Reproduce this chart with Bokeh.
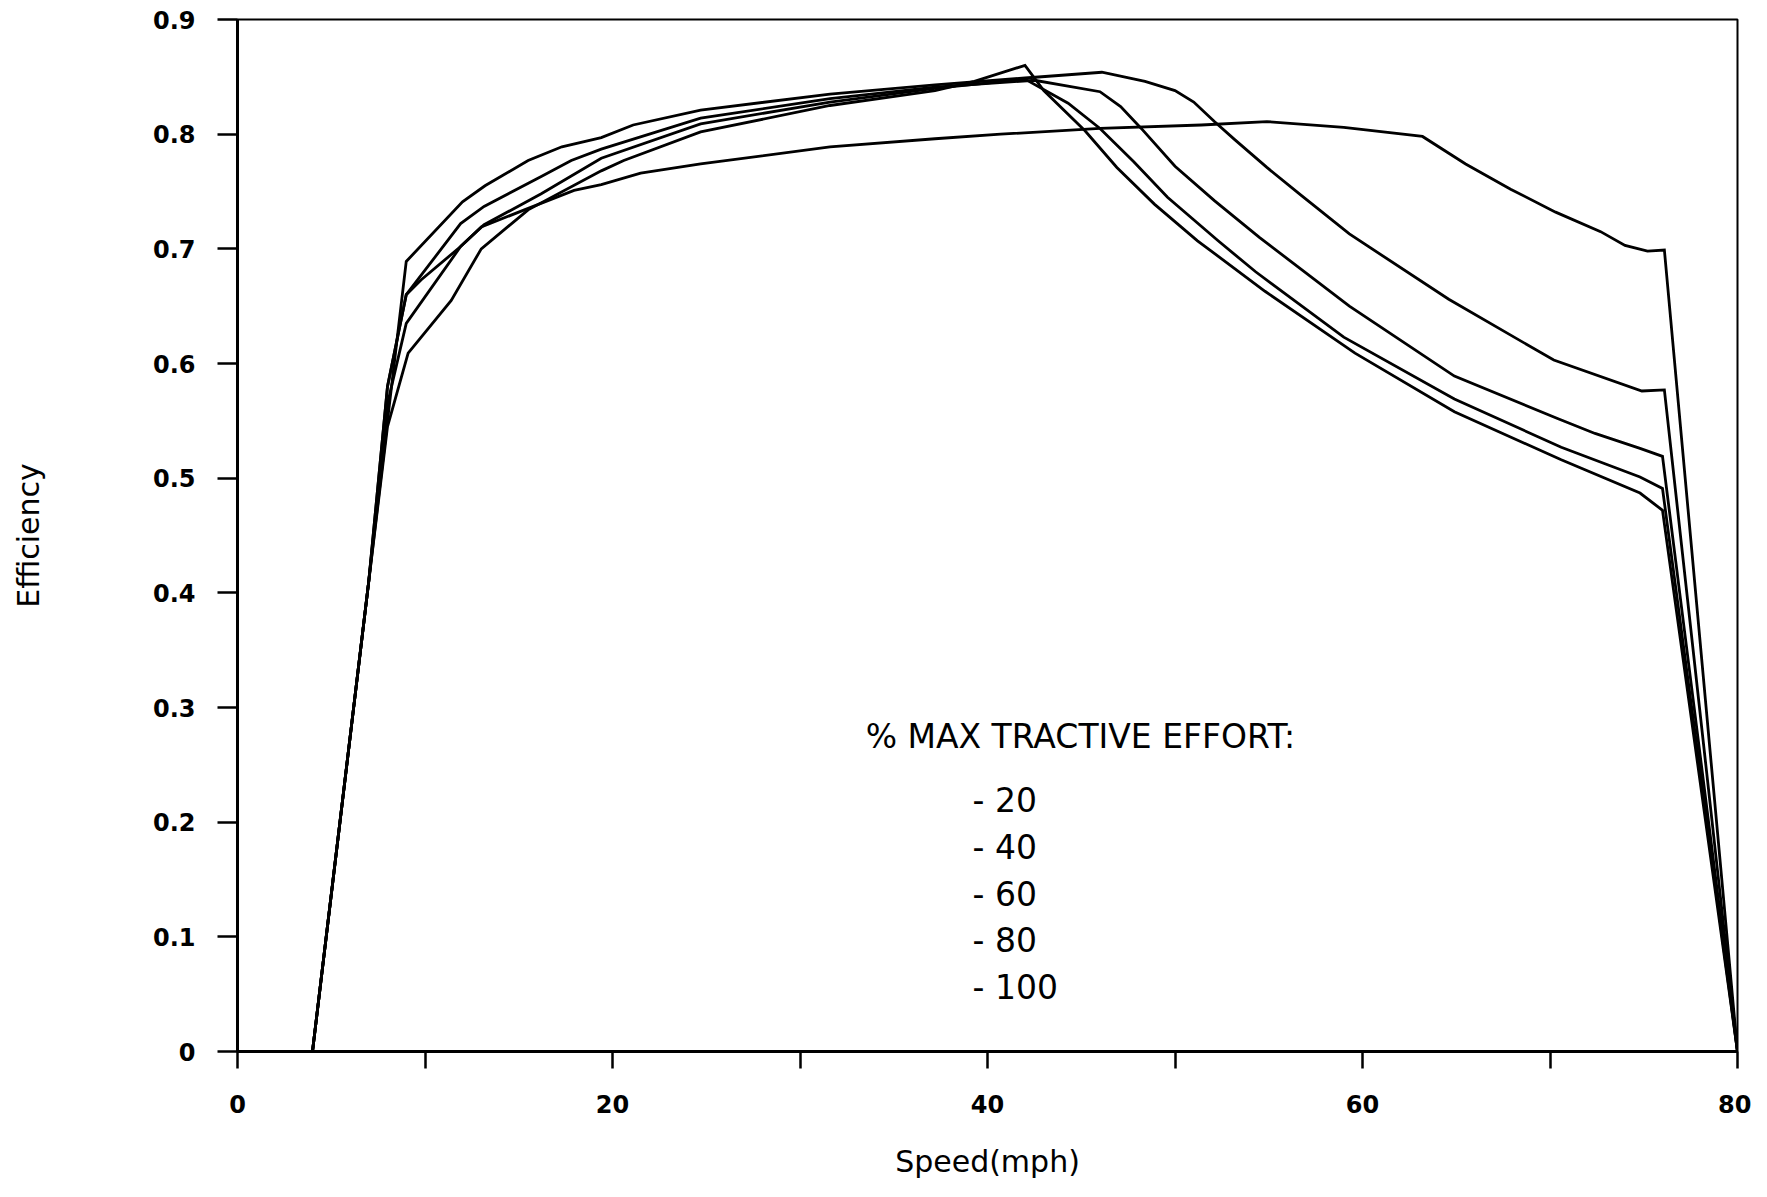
from bokeh.plotting import figure
from bokeh.models import Range1d, FixedTicker, Label
from bokeh.embed import file_html
from bokeh.resources import INLINE

# ---------------- data ----------------
x_te20 = [0, 4, 7, 8, 9, 9.8, 11.9, 13.0, 15.3, 17.95, 19.4, 21.5, 24.7, 31.6, 37.2, 40.7,
          46.0, 51.4, 54.9, 59.0, 63.2, 65.5, 67.9, 70.3, 72.7, 74.0, 75.2, 76.1, 80]
y_te20 = [0, 0, 0.41, 0.58, 0.660, 0.673, 0.702, 0.719, 0.734, 0.751, 0.756, 0.766, 0.774,
          0.789, 0.796, 0.800, 0.805, 0.808, 0.811, 0.806, 0.798, 0.774, 0.752, 0.732,
          0.715, 0.703, 0.698, 0.699, 0]

x_te40 = [0, 4, 7, 8, 9, 12, 13.2, 15.5, 17.3, 19.4, 21.1, 24.7, 31.6, 37.2, 42, 46.1, 48.4,
          50.0, 51.0, 52.1, 53.2, 54.9, 56.7, 59.3, 64.6, 70.2, 74.9, 76.1, 80]
y_te40 = [0, 0, 0.41, 0.55, 0.689, 0.741, 0.755, 0.777, 0.789, 0.797, 0.808, 0.821, 0.835,
          0.843, 0.849, 0.854, 0.846, 0.838, 0.828, 0.811, 0.795, 0.771, 0.747, 0.713,
          0.656, 0.603, 0.576, 0.577, 0]

x_te60 = [0, 4, 7, 8, 9, 11.9, 13.15, 16.2, 17.8, 19.4, 24.7, 31.6, 37.2, 42.5, 46.0, 47.1,
          48.2, 50.0, 52.1, 54.5, 59.3, 64.9, 70.4, 72.4, 74.8, 76.0, 80]
y_te60 = [0, 0, 0.41, 0.58, 0.660, 0.722, 0.737, 0.763, 0.777, 0.787, 0.814, 0.831, 0.841,
          0.847, 0.837, 0.824, 0.805, 0.772, 0.742, 0.710, 0.650, 0.589, 0.552, 0.539,
          0.526, 0.519, 0]

x_te80 = [0, 4, 7, 8, 9, 11.9, 13.15, 16.2, 19.4, 24.7, 31.6, 37.2, 42, 44.3, 46.0, 47.8,
          49.6, 52.3, 54.3, 59.0, 64.9, 70.6, 74.8, 76.0, 80]
y_te80 = [0, 0, 0.41, 0.565, 0.635, 0.702, 0.721, 0.748, 0.779, 0.809, 0.828, 0.840, 0.848,
          0.827, 0.805, 0.776, 0.745, 0.707, 0.680, 0.623, 0.569, 0.527, 0.501, 0.491, 0]

x_te100 = [0, 4, 7, 8, 9.1, 11.4, 13.0, 15.5, 19.4, 20.6, 24.7, 31.6, 37.2, 39.3, 42, 43,
           45.2, 46.9, 48.9, 51.2, 54.8, 59.6, 64.9, 70.6, 74.8, 76.0, 80]
y_te100 = [0, 0, 0.41, 0.545, 0.609, 0.655, 0.700, 0.734, 0.768, 0.777, 0.802, 0.825, 0.838,
           0.846, 0.860, 0.838, 0.803, 0.771, 0.739, 0.707, 0.663, 0.609, 0.558, 0.516,
           0.487, 0.472, 0]

x_ticks = [0, 20, 40, 60, 80]
x_minor_ticks = [10, 30, 50, 70]
y_ticks = [0, 0.1, 0.2, 0.3, 0.4, 0.5, 0.6, 0.7, 0.8, 0.9]
y_tick_labels = ["0", "0.1", "0.2", "0.3", "0.4", "0.5", "0.6", "0.7", "0.8", "0.9"]

legend_title = "% MAX TRACTIVE EFFORT:"
legend_items = ["- 20", "- 40", "- 60", "- 80", "- 100"]

# ---------------- figure ----------------
p = figure(width=1751, height=1181, output_backend="svg", toolbar_location=None,
           x_range=Range1d(0, 80), y_range=Range1d(0, 0.9),
           min_border_left=237, min_border_right=14, min_border_top=19,
           min_border_bottom=130)
p.background_fill_color = "white"
p.border_fill_color = "white"
p.outline_line_color = "black"
p.outline_line_width = 2
p.xgrid.visible = False
p.ygrid.visible = False

series = [(x_te20, y_te20), (x_te40, y_te40), (x_te60, y_te60),
          (x_te80, y_te80), (x_te100, y_te100)]
for xs, ys in series:
    p.line(xs, ys, line_color="black", line_width=2.8, line_join="miter")

# x axis
xa = p.xaxis[0]
xa.ticker = FixedTicker(ticks=x_ticks, minor_ticks=x_minor_ticks)
xa.axis_label = "Speed(mph)"
xa.axis_line_width = 3
xa.major_tick_line_width = 2.5
xa.minor_tick_line_width = 2.5
xa.major_tick_in = 0
xa.major_tick_out = 17
xa.minor_tick_in = 0
xa.minor_tick_out = 17
xa.major_label_standoff = 26
xa.major_label_text_font = "DejaVu Sans"
xa.major_label_text_font_style = "bold"
xa.major_label_text_font_size = "24px"
xa.major_label_text_color = "black"
xa.axis_label_standoff = 28
xa.axis_label_text_font = "DejaVu Sans"
xa.axis_label_text_font_style = "normal"
xa.axis_label_text_font_size = "30px"
xa.axis_label_text_color = "black"

# y axis
ya = p.yaxis[0]
ya.ticker = FixedTicker(ticks=y_ticks, minor_ticks=[])
ya.major_label_overrides = {t: l for t, l in zip(y_ticks, y_tick_labels)}
ya.axis_label = "Efficiency"
ya.axis_line_width = 3
ya.major_tick_line_width = 2.5
ya.major_tick_in = 0
ya.major_tick_out = 20
ya.minor_tick_in = 0
ya.minor_tick_out = 0
ya.major_label_standoff = 22
ya.major_label_text_font = "DejaVu Sans"
ya.major_label_text_font_style = "bold"
ya.major_label_text_font_size = "24px"
ya.major_label_text_color = "black"
ya.axis_label_standoff = 104
ya.axis_label_text_font = "DejaVu Sans"
ya.axis_label_text_font_style = "normal"
ya.axis_label_text_font_size = "30px"
ya.axis_label_text_color = "black"

# legend-like annotation text
p.add_layout(Label(x=33.5, y=0.275, text=legend_title, text_font="DejaVu Sans",
                   text_font_size="33px", text_color="black",
                   text_baseline="alphabetic", text_align="left"))
item_ys = [0.2185, 0.1778, 0.1371, 0.0964, 0.0557]
for txt, yy in zip(legend_items, item_ys):
    p.add_layout(Label(x=39.2, y=yy, text=txt, text_font="DejaVu Sans",
                       text_font_size="33px", text_color="black",
                       text_baseline="alphabetic", text_align="left"))

open("out.html", "w").write(file_html(p, INLINE))
